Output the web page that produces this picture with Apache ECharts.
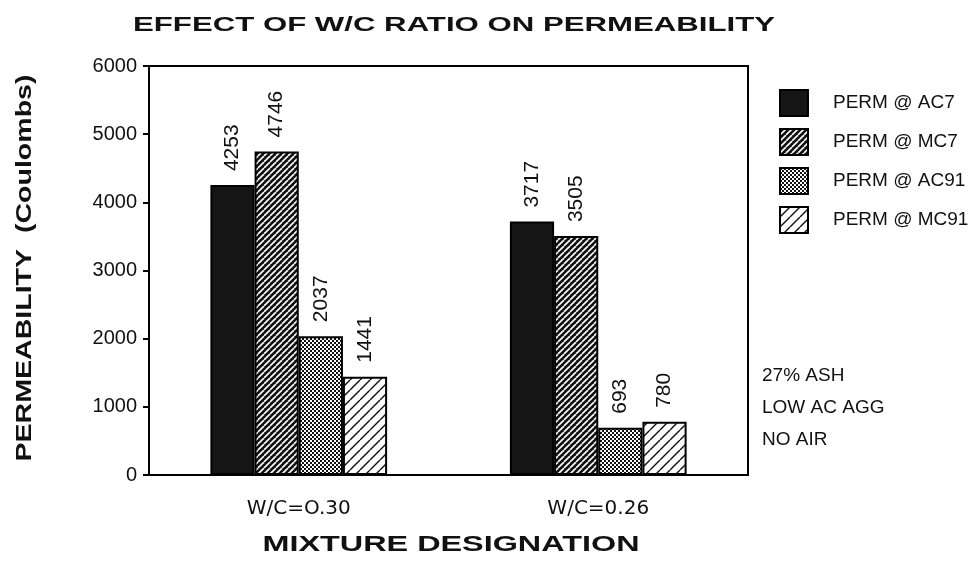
<!DOCTYPE html>
<html>
<head>
<meta charset="utf-8">
<script src="https://cdn.jsdelivr.net/npm/echarts@6/dist/echarts.min.js"></script>
<style>
  html, body { margin: 0; padding: 0; background: #fff; }
  #chart { width: 975px; height: 561px; }
</style>
</head>
<body>
<div id="chart"></div>
<script>
// data
var categories = ['W/C=O.30', 'W/C=0.26'];
var seriesNames = ['PERM @ AC7', 'PERM @ MC7', 'PERM @ AC91', 'PERM @ MC91'];
var permAC7 = [4253, 3717];
var permMC7 = [4746, 3505];
var permAC91 = [2037, 693];
var permMC91 = [1441, 780];
var yTicks = [0, 1000, 2000, 3000, 4000, 5000, 6000];

// little canvas tiles for the hatch fills
function stripes(size, bg, fg, lw) {
    var c = document.createElement('canvas');
    c.width = size; c.height = size;
    var g = c.getContext('2d');
    g.fillStyle = bg;
    g.fillRect(0, 0, size, size);
    g.strokeStyle = fg;
    g.lineWidth = lw;
    for (var k = -1; k <= 1; k++) {
        g.beginPath();
        g.moveTo(k * size, size);
        g.lineTo(k * size + size, 0);
        g.stroke();
    }
    return c;
}
function checker() {
    var c = document.createElement('canvas');
    c.width = 4; c.height = 4;
    var g = c.getContext('2d');
    g.fillStyle = '#fff';
    g.fillRect(0, 0, 4, 4);
    g.fillStyle = '#111';
    g.fillRect(0, 0, 2, 2);
    g.fillRect(2, 2, 2, 2);
    return c;
}

// the scan has wide letter spacing, so stretch the big captions to the same width
var measureCtx = document.createElement('canvas').getContext('2d');
function wideText(text, font, cx, cy, width, rotation) {
    measureCtx.font = font;
    var w = measureCtx.measureText(text).width;
    return {
        type: 'text',
        x: cx, y: cy,
        rotation: rotation || 0,
        scaleX: width / w,
        style: { text: text, font: font, fill: '#111', align: 'center', verticalAlign: 'middle' }
    };
}

var fills = [
    '#151515',
    { image: stripes(6, '#111', '#fff', 1.6), repeat: 'repeat' },
    { image: checker(), repeat: 'repeat' },
    { image: stripes(10, '#fff', '#111', 1.4), repeat: 'repeat' }
];
var values = [permAC7, permMC7, permAC91, permMC91];

var chart = echarts.init(document.getElementById('chart'));

var series = seriesNames.map(function (name, i) {
    return {
        name: name,
        type: 'bar',
        data: values[i],
        barGap: '0%',
        barCategoryGap: '41%',
        itemStyle: { color: fills[i], borderColor: '#000', borderWidth: 2 },
        label: {
            show: true,
            position: 'top',
            distance: 14,
            rotate: 90,
            align: 'left',
            verticalAlign: 'middle',
            fontFamily: 'Liberation Sans',
            fontSize: 21,
            color: '#111'
        }
    };
});

chart.setOption({
    animation: false,
    backgroundColor: '#fff',
    textStyle: { fontFamily: 'Liberation Sans', color: '#111' },
    legend: {
        orient: 'vertical',
        left: 774,
        top: 84,
        itemWidth: 28,
        itemHeight: 26,
        itemGap: 11,
        icon: 'rect',
        data: seriesNames,
        textStyle: { fontFamily: 'Liberation Sans', fontSize: 19, lineHeight: 26, color: '#111', padding: [0, 0, 0, 20] }
    },
    grid: {
        left: 149, right: 227, top: 66, bottom: 86,
        show: true, borderColor: '#000', borderWidth: 2
    },
    xAxis: {
        type: 'category',
        data: categories,
        axisLine: { lineStyle: { color: '#000', width: 2 } },
        axisTick: { show: false },
        axisLabel: { margin: 24, fontSize: 20, color: '#111', fontFamily: 'DejaVu Sans' }
    },
    yAxis: {
        type: 'value',
        min: yTicks[0],
        max: yTicks[yTicks.length - 1],
        interval: 1000,
        axisLine: { show: true, lineStyle: { color: '#000', width: 2 } },
        axisTick: { show: true, inside: false, length: 6, lineStyle: { color: '#000', width: 2 } },
        splitLine: { show: false },
        axisLabel: {
            margin: 12, fontSize: 20, color: '#111', fontFamily: 'Liberation Sans',
            formatter: function (v) { return String(v); }
        }
    },
    graphic: [
        wideText('EFFECT OF W/C RATIO ON PERMEABILITY', 'bold 21px "Liberation Sans"', 454, 25, 642),
        wideText('MIXTURE DESIGNATION', 'bold 22px "Liberation Sans"', 451, 545, 377),
        wideText('PERMEABILITY  (Coulombs)', 'bold 22px "Liberation Sans"', 25, 268, 387, Math.PI / 2),
        {
            type: 'text',
            left: 762,
            top: 360,
            style: {
                text: '27% ASH\nLOW AC AGG\nNO AIR',
                font: '19px "Liberation Sans"',
                lineHeight: 32,
                fill: '#111'
            }
        }
    ],
    series: series
});
</script>
</body>
</html>
